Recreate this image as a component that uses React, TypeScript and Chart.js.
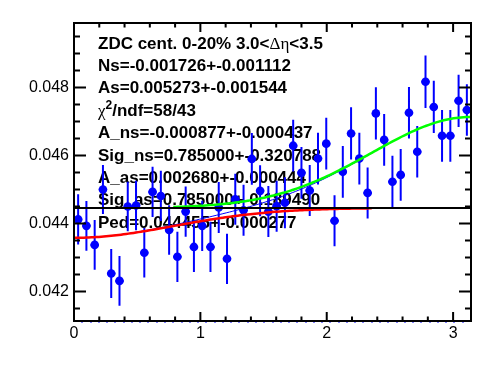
import React, { useEffect, useRef } from "react";
import { Chart, registerables } from "chart.js";
Chart.register(...registerables);

const N_BINS = 48;
const X_MIN = 0;
const X_MAX = Math.PI;
const Y_MIN = 0.04113;
const Y_MAX = 0.0499;
const X_TICKS = [0, 1, 2, 3];
const X_TICK_LABELS = ["0", "1", "2", "3"];
const Y_TICKS = [0.042, 0.044, 0.046, 0.048];
const Y_TICK_LABELS = ["0.042", "0.044", "0.046", "0.048"];

const VALUES = [
  0.04412, 0.04393, 0.04337, 0.045, 0.04253, 0.04231, 0.0445, 0.04453,
  0.04314, 0.04493, 0.04481, 0.04381, 0.04302, 0.04435, 0.04331, 0.04393,
  0.04331, 0.04447, 0.04296, 0.04471, 0.04439, 0.0459, 0.04496, 0.04435,
  0.04451, 0.04461, 0.04629, 0.04549, 0.04497, 0.04591, 0.04635, 0.04408,
  0.04552, 0.04665, 0.04591, 0.0449, 0.04724, 0.04646, 0.04523, 0.04543,
  0.04726, 0.04611, 0.04817, 0.04743, 0.04658, 0.04658, 0.04761, 0.04734,
];
const ERRORS = [
  0.00074, 0.00073, 0.00073, 0.00072, 0.00072, 0.00073, 0.00073, 0.00073,
  0.00073, 0.00074, 0.00074, 0.00073, 0.00074, 0.00074, 0.00074, 0.00074,
  0.00074, 0.00075, 0.00074, 0.00075, 0.00075, 0.00076, 0.00075, 0.00075,
  0.00075, 0.00075, 0.00076, 0.00076, 0.00075, 0.00076, 0.00076, 0.00075,
  0.00076, 0.00077, 0.00076, 0.00075, 0.00077, 0.00076, 0.00076, 0.00076,
  0.00076, 0.00076, 0.00077, 0.00077, 0.00076, 0.00076, 0.00077, 0.00076,
];

// fit parameters (from the legend text)
const PED = 0.044455;
const A_NS = -0.000877;
const SIG_NS = 0.785;
const A_AS = 0.00268;
const SIG_AS = 0.785;

const TEXT_LINES: Array<Array<[string, string]>> = [
  [["ZDC cent. 0-20% 3.0<", "b"], ["Δη", "g"], ["<3.5", "b"]],
  [["Ns=-0.001726+-0.001112", "b"]],
  [["As=0.005273+-0.001544", "b"]],
  [["χ", "g"], ["2", "sup"], ["/ndf=58/43", "b"]],
  [["A_ns=-0.000877+-0.000437", "b"]],
  [["Sig_ns=0.785000+-0.320788", "b"]],
  [["A_as=0.002680+-0.000444", "b"]],
  [["Sig_as=0.785000+-0.189490", "b"]],
  [["Ped=0.044455+-0.000277", "b"]],
];

const BIN_W = (X_MAX - X_MIN) / N_BINS;
const BIN_CENTERS = VALUES.map((_, i) => X_MIN + (i + 0.5) * BIN_W);

const gNs = (x: number) => Math.exp(-(x * x) / (2 * SIG_NS * SIG_NS));
const gAs = (x: number) =>
  Math.exp(-((x - Math.PI) * (x - Math.PI)) / (2 * SIG_AS * SIG_AS));

function sample(f: (x: number) => number, a: number, b: number, n = 120) {
  const out: { x: number; y: number }[] = [];
  for (let i = 0; i <= n; i++) {
    const x = a + ((b - a) * i) / n;
    out.push({ x, y: f(x) });
  }
  return out;
}

const FONT_B = "bold 17px 'Liberation Sans', Arial, sans-serif";
const FONT_G = "17px 'Liberation Serif', 'DejaVu Serif', serif";
const FONT_SUP = "bold 12px 'Liberation Sans', Arial, sans-serif";
const FONT_TICK = "16px 'Liberation Sans', Arial, sans-serif";

const rootPlugin = {
  id: "rootStyle",
  beforeDatasetsDraw(chart: any) {
    const ctx = chart.ctx;
    ctx.save();
    ctx.fillStyle = "#000";
    ctx.textBaseline = "alphabetic";
    ctx.textAlign = "left";
    const x0 = 98;
    const base0 = 48.5;
    const step = 22.4;
    TEXT_LINES.forEach((segs, li) => {
      let x = x0;
      const y = base0 + li * step;
      segs.forEach(([t, kind]) => {
        if (kind === "sup") {
          ctx.font = FONT_SUP;
          ctx.fillText(t, x, y - 7);
        } else {
          ctx.font = kind === "g" ? FONT_G : FONT_B;
          ctx.fillText(t, x, y);
        }
        x += ctx.measureText(t).width;
      });
    });
    ctx.restore();
  },
  beforeDatasetDraw(chart: any, args: any) {
    if (args.meta.label !== "points") return;
    const ctx = chart.ctx;
    const xs = chart.scales.x;
    const ys = chart.scales.y;
    ctx.save();
    ctx.strokeStyle = "#0000ff";
    ctx.lineWidth = 2;
    ctx.beginPath();
    BIN_CENTERS.forEach((xc, i) => {
      const px = xs.getPixelForValue(xc);
      const py = ys.getPixelForValue(VALUES[i]);
      const top = ys.getPixelForValue(VALUES[i] + ERRORS[i]);
      const bot = ys.getPixelForValue(VALUES[i] - ERRORS[i]);
      ctx.moveTo(px, top);
      ctx.lineTo(px, bot);
      ctx.moveTo(xs.getPixelForValue(xc - BIN_W / 2), py);
      ctx.lineTo(xs.getPixelForValue(xc + BIN_W / 2), py);
    });
    ctx.stroke();
    ctx.restore();
  },
  afterDatasetsDraw(chart: any) {
    const ctx = chart.ctx;
    const a = chart.chartArea;
    const xs = chart.scales.x;
    const ys = chart.scales.y;
    ctx.save();
    // little blue marks along the bottom edge (empty bins)
    ctx.fillStyle = "#0000ff";
    for (let i = 1; i < N_BINS; i++) {
      const px = xs.getPixelForValue(X_MIN + i * BIN_W);
      ctx.fillRect(Math.round(px) - 1, a.bottom, 2, 1.5);
    }
    ctx.strokeStyle = "#000";
    ctx.lineWidth = 2;
    ctx.strokeRect(a.left, a.top, a.right - a.left, a.bottom - a.top);
    ctx.beginPath();
    // x ticks
    for (let v = 0; v <= X_MAX + 1e-9; v += 0.2) {
      const major = Math.abs(v - Math.round(v)) < 1e-6;
      const len = major ? 9 : 4.5;
      const px = xs.getPixelForValue(v);
      ctx.moveTo(px, a.bottom);
      ctx.lineTo(px, a.bottom - len);
      ctx.moveTo(px, a.top);
      ctx.lineTo(px, a.top + len);
    }
    // y ticks
    for (let k = Math.ceil(Y_MIN / 0.0005); k * 0.0005 <= Y_MAX; k++) {
      const v = k * 0.0005;
      const major = k % 4 === 0;
      const len = major ? 12 : 6;
      const py = ys.getPixelForValue(v);
      ctx.moveTo(a.left, py);
      ctx.lineTo(a.left + len, py);
      ctx.moveTo(a.right, py);
      ctx.lineTo(a.right - len, py);
    }
    ctx.stroke();
    // labels
    ctx.fillStyle = "#000";
    ctx.font = FONT_TICK;
    ctx.textAlign = "right";
    ctx.textBaseline = "middle";
    Y_TICKS.forEach((v, i) => {
      ctx.fillText(Y_TICK_LABELS[i], a.left - 5, ys.getPixelForValue(v));
    });
    ctx.textAlign = "center";
    ctx.textBaseline = "top";
    X_TICKS.forEach((v, i) => {
      ctx.fillText(X_TICK_LABELS[i], xs.getPixelForValue(v), a.bottom + 5);
    });
    ctx.restore();
  },
};

export default function App() {
  const ref = useRef<HTMLCanvasElement>(null);
  useEffect(() => {
    const canvas = ref.current!;
    const points = BIN_CENTERS.map((x, i) => ({ x, y: VALUES[i] }));
    const ped = sample(() => PED, X_MIN, X_MAX, 2);
    const near = sample((x) => PED + A_NS * gNs(x), 0, (3 * Math.PI) / 4);
    const away = sample((x) => PED + A_AS * gAs(x), Math.PI / 4, Math.PI);
    const total = sample((x) => PED + A_NS * gNs(x) + A_AS * gAs(x), 0, Math.PI);
    const line = (label: string, data: any, color: string, w: number, order: number) => ({
      label,
      data,
      showLine: true,
      borderColor: color,
      borderWidth: w,
      pointRadius: 0,
      tension: 0,
      fill: false,
      order,
    });
    const chart = new Chart(canvas, {
      type: "scatter",
      data: {
        datasets: [
          line("ped", ped, "#000000", 2, 0),
          line("away", away, "#00ff00", 2.5, 1),
          line("near", near, "#ff0000", 2.5, 2),
          {
            label: "points",
            data: points,
            pointRadius: 4.3,
            pointHoverRadius: 4.3,
            backgroundColor: "#0000ff",
            borderColor: "#0000ff",
            borderWidth: 0,
            order: 3,
          } as any,
          line("total", total, "#0000ff", 1, 4),
        ],
      },
      options: {
        animation: false,
        responsive: false,
        devicePixelRatio: 1,
        layout: { padding: { left: 74, right: 25, top: 23, bottom: 53 } },
        scales: {
          x: { type: "linear", min: X_MIN, max: X_MAX, display: false },
          y: { type: "linear", min: Y_MIN, max: Y_MAX, display: false },
        },
        plugins: { legend: { display: false }, tooltip: { enabled: false } },
        events: [],
      },
      plugins: [rootPlugin],
    } as any);
    return () => chart.destroy();
  }, []);
  return (
    <div style={{ position: "fixed", left: 0, top: 0, width: 496, height: 374, background: "#fff" }}>
      <canvas ref={ref} width={496} height={374} style={{ display: "block", width: 496, height: 374 }} />
    </div>
  );
}
